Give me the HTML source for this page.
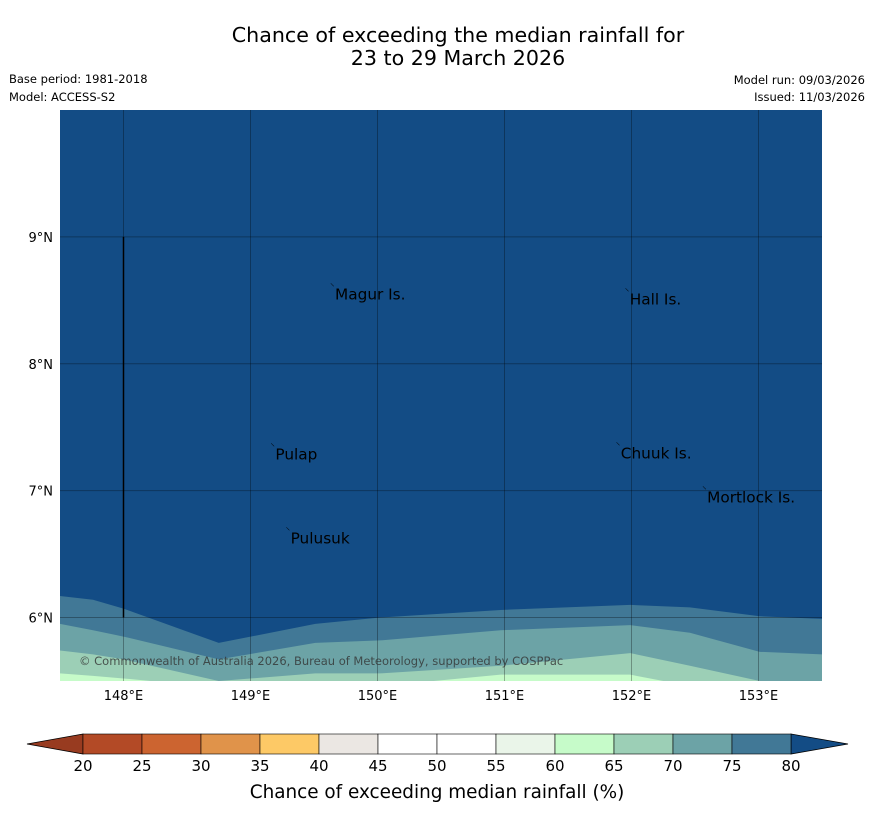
<!DOCTYPE html>
<html><head><meta charset="utf-8"><style>
body{margin:0;background:#fff;font-family:"Liberation Sans","DejaVu Sans",sans-serif}
svg text{font-family:"DejaVu Sans","Liberation Sans",sans-serif}
</style></head><body>
<svg id="c" width="873" height="816" xmlns="http://www.w3.org/2000/svg">
<text x="458" y="42" font-size="20.6" text-anchor="middle">Chance of exceeding the median rainfall for</text>
<text x="458" y="65" font-size="20.6" text-anchor="middle">23 to 29 March 2026</text>
<text x="9" y="83" font-size="11.5">Base period: 1981-2018</text>
<text x="9" y="101" font-size="11.5">Model: ACCESS-S2</text>
<text x="865" y="84" font-size="11.5" text-anchor="end">Model run: 09/03/2026</text>
<text x="865" y="101" font-size="11.5" text-anchor="end">Issued: 11/03/2026</text>
<g id="map"></g>
<g id="cbar"></g>
<text x="437" y="798" font-size="18.4" text-anchor="middle">Chance of exceeding median rainfall (%)</text>
</svg>
<script>
const lons=[147.5,147.76,148,148.75,149.51,150.02,150.97,151.99,152.46,153.01,153.5];
const b80=[6.17,6.14,6.07,5.80,5.95,6.00,6.06,6.10,6.08,6.01,5.99];
const b75=[5.95,5.90,5.85,5.67,5.80,5.82,5.90,5.94,5.88,5.73,5.71];
const b70=[5.74,5.71,5.67,5.50,5.56,5.56,5.62,5.72,5.62,5.50,5.45];
const b65=[5.56,5.54,5.52,5.45,5.46,5.46,5.55,5.55,5.46,5.40,5.40];
const levels=[20,25,30,35,40,45,50,55,60,65,70,75,80];
const colors=["#b34a26","#cc6430","#e0934a","#fdc966","#ebe7e3","#ffffff","#ffffff","#eaf5e9","#c6fbc9","#9ccfb6","#6ca3a6","#417896"];
const lonTicks=[148,149,150,151,152,153];
const latTicks=[6,7,8,9];
const places=[["Magur Is.",149.65,8.6],["Hall Is.",151.97,8.56],["Pulap",149.18,7.34],["Chuuk Is.",151.9,7.35],["Mortlock Is.",152.58,7.0],["Pulusuk",149.3,6.68]];
const NS="http://www.w3.org/2000/svg";
const X0=60,X1=822,Y0=110,Y1=681;
const sx=l=>X0+(l-147.5)/6*(X1-X0);
const sy=l=>Y0+(10-l)/4.5*(Y1-Y0);
function mk(t,a,p){const e=document.createElementNS(NS,t);for(const k in a)e.setAttribute(k,a[k]);p.appendChild(e);return e;}
const map=document.getElementById('map');
const cp=mk('clipPath',{id:'cl'},map);mk('rect',{x:X0,y:Y0,width:X1-X0,height:Y1-Y0},cp);
const g=mk('g',{'clip-path':'url(#cl)'},map);
const bg=mk('rect',{x:X0,y:Y0,width:X1-X0,height:Y1-Y0,fill:'#134c85'},g);


[[b80,'#417896','band-75-80'],[b75,'#6ca3a6','band-70-75'],[b70,'#9ccfb6','band-65-70'],[b65,'#c6fbc9','band-60-65']].forEach(([b,c,n])=>{
 let d='M'+sx(lons[0])+','+(Y1+20);
 lons.forEach((l,i)=>d+=' L'+sx(l)+','+sy(b[i]));
 d+=' L'+sx(lons[lons.length-1])+','+(Y1+20)+'Z';
 const p=mk('path',{d:d,fill:c},g);
 
 
});
lonTicks.forEach(l=>{
 const ln=mk('line',{x1:sx(l),x2:sx(l),y1:Y0,y2:Y1,stroke:'#000','stroke-opacity':0.3,'stroke-width':1},map);
 
 
 const t=mk('text',{x:sx(l),y:700,'font-size':13,'text-anchor':'middle'},map);t.textContent=l+'°E';
 
 
});
latTicks.forEach(l=>{
 const ln=mk('line',{x1:X0,x2:X1,y1:sy(l),y2:sy(l),stroke:'#000','stroke-opacity':0.3,'stroke-width':1},map);
 
 
 const t=mk('text',{x:53,y:sy(l)+5,'font-size':13,'text-anchor':'end'},map);t.textContent=l+'°N';
 
 
});
const vl=mk('line',{x1:sx(148),x2:sx(148),y1:sy(9),y2:sy(6),stroke:'#000','stroke-width':1.5},map);


places.forEach(([n,lo,la])=>{
 const m=mk('text',{x:sx(lo)-3,y:sy(la)+2,'font-size':9},map);m.textContent='⸌';
 const t=mk('text',{x:sx(lo)+2,y:sy(la)+12,'font-size':15.3},map);t.textContent=n;
 
 
});
const cr=mk('text',{x:79,y:665,'font-size':11.5,fill:'#333','fill-opacity':0.8},map);
cr.textContent='© Commonwealth of Australia 2026, Bureau of Meteorology, supported by COSPPac';


const cb=document.getElementById('cbar');
const C0=83,C1=791,CY=734,CH=20;
const cx=v=>C0+(v-20)/60*(C1-C0);
mk('path',{d:`M${C0},${CY} L27,${CY+CH/2} L${C0},${CY+CH}Z`,fill:'#983b20',stroke:'#000','stroke-width':0.8},cb);
mk('path',{d:`M${C1},${CY} L848,${CY+CH/2} L${C1},${CY+CH}Z`,fill:'#134c85',stroke:'#000','stroke-width':0.8},cb);
colors.forEach((c,i)=>{
 const r=mk('rect',{x:cx(levels[i]),y:CY,width:cx(levels[i+1])-cx(levels[i]),height:CH,fill:c,stroke:'#000','stroke-width':0.6},cb);
 
 
});
levels.forEach(v=>{
 const t=mk('text',{x:cx(v),y:771,'font-size':15,'text-anchor':'middle'},cb);t.textContent=v;
 
 
});
</script>
</body></html>
